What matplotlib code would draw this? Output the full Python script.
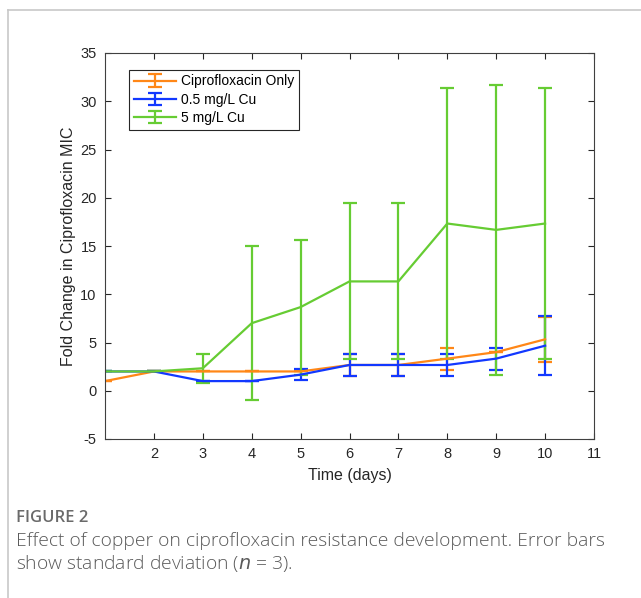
import matplotlib
matplotlib.use("Agg")
import numpy as np
import matplotlib.pyplot as plt
from matplotlib.lines import Line2D
from matplotlib.legend_handler import HandlerErrorbar

# data
days = [1, 2, 3, 4, 5, 6, 7, 8, 9, 10]

cipro_mean = [1, 2, 2, 2, 2, 2.67, 2.67, 3.33, 4, 5.33]
cipro_sd   = [0, 0, 0, 0, 0, 1.15, 1.15, 1.15, 0, 2.31]

cu05_mean = [2, 2, 1, 1, 1.67, 2.67, 2.67, 2.67, 3.33, 4.67]
cu05_sd   = [0, 0, 0, 0, 0.58, 1.15, 1.15, 1.15, 1.15, 3.06]

cu5_mean = [2, 2, 2.33, 7, 8.67, 11.33, 11.33, 17.33, 16.67, 17.33]
cu5_sd   = [0, 0, 1.53, 8, 7, 8.08, 8.08, 14.05, 15.01, 14.05]

series_names = ["Ciprofloxacin Only", "0.5 mg/L Cu", "5 mg/L Cu"]
colors = ["#FF8717", "#1238FF", "#66CC33"]

plt.rcParams['font.family'] = ['Liberation Sans', 'DejaVu Sans']
plt.rcParams['axes.unicode_minus'] = False

fig = plt.figure(figsize=(6.41, 5.98), dpi=100)

# page frame (left and top border of the figure panel)
fig.add_artist(Line2D([8/641, 8/641], [0, 1 - 10/598], color="#c8c8c8", lw=1.2))
fig.add_artist(Line2D([8/641, 1], [1 - 10/598, 1 - 10/598], color="#c8c8c8", lw=1.2))

ax = fig.add_axes([105/641, 1 - 439/598, (594 - 105)/641, (439 - 53)/598])

for m, s, c, name in zip([cipro_mean, cu05_mean, cu5_mean],
                         [cipro_sd, cu05_sd, cu5_sd], colors, series_names):
    ax.errorbar(days, m, yerr=s, color=c, lw=1.6, elinewidth=1.6,
                capsize=5, capthick=1.6, label=name)

ax.set_xlim(1, 11)
ax.set_ylim(-5, 35)
ax.set_xticks(range(2, 12))
ax.set_yticks(range(-5, 36, 5))
ax.tick_params(direction="in", top=True, right=True, length=4, width=0.8,
               colors="#262626", labelsize=10.5, pad=6)
for sp in ax.spines.values():
    sp.set_color("#404040")
    sp.set_linewidth(0.8)

ax.set_xlabel("Time (days)", fontsize=11.5, color="#262626", labelpad=5)
ax.set_ylabel("Fold Change in Ciprofloxacin MIC", fontsize=11.5, color="#262626", labelpad=3)

leg = ax.legend(loc="upper left", bbox_to_anchor=(0.035, 0.975), fontsize=10,
                handlelength=3.0, handletextpad=0.4, borderpad=0.35,
                labelspacing=0.3, fancybox=False, framealpha=1,
                handler_map={type(ax.containers[0]): HandlerErrorbar(yerr_size=0.45)})
leg.get_frame().set_edgecolor("#262626")
leg.get_frame().set_linewidth(0.8)

# caption
fig.text(16/641, 1 - 518/598, "FIGURE 2", fontsize=12, color="#6a6a6a",
         family=["Open Sans", "DejaVu Sans"], va="center", fontweight="semibold")
fig.text(16/641, 1 - 541/598,
         "Effect of copper on ciprofloxacin resistance development. Error bars",
         fontsize=13.9, color="#5a5a5a", family=["Open Sans", "DejaVu Sans"],
         va="center", fontweight="light")
fig.text(16/641, 1 - 564/598, "show standard deviation ($\\it{n}$ = 3).",
         fontsize=13.9, color="#5a5a5a", family=["Open Sans", "DejaVu Sans"],
         va="center", fontweight="light")

fig.savefig("out.png", dpi=100)
